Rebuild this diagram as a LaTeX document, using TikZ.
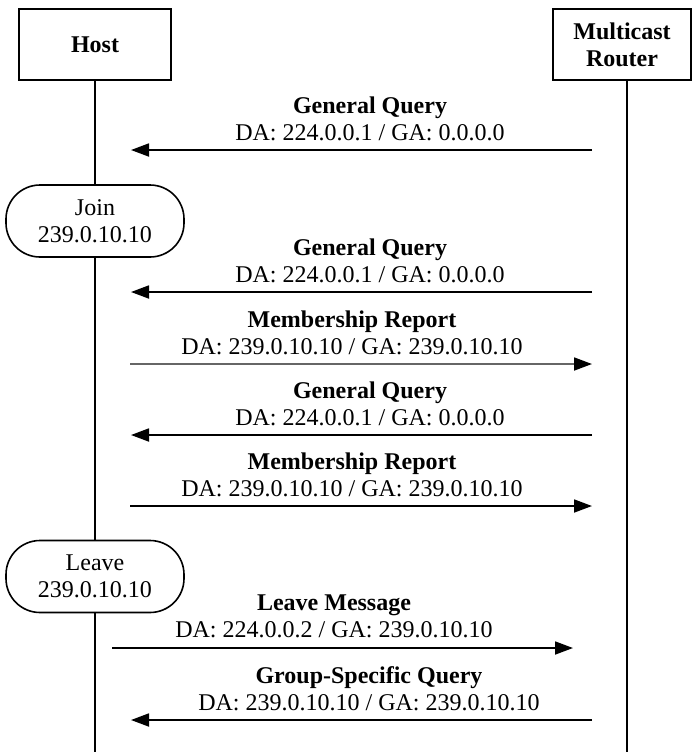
\documentclass[tikz,border=0pt]{standalone}
\usepackage{fontspec}
\setmainfont{Liberation Serif}
\usetikzlibrary{arrows.meta}
\begin{document}
\fontsize{12}{13.5}\selectfont
\begin{tikzpicture}[x=0.5pt,y=-0.5pt,
  lane/.style={draw, line width=0.9pt, minimum width=76pt, minimum height=35.5pt, font=\bfseries, align=center, inner sep=0pt},
  capsule/.style={draw, line width=0.8pt, rounded corners=17pt, minimum width=89pt, minimum height=36pt, align=center, inner sep=0pt},
  life/.style={line width=0.9pt},
  msg/.style={line width=0.9pt, -{Triangle[length=9pt,width=6.5pt]}},
  lbl/.style={align=center, inner sep=0pt}
]
\useasboundingbox (0,0) rectangle (693,752);
% participants
\node[lane] (host) at (95,44.5) {Host};
\node[lane, minimum width=69pt] (router) at (622,44.5) {Multicast\\Router};
\coordinate (rx) at (627,0);
\node[capsule] (join) at (95,221) {Join\\239.0.10.10};
\node[capsule] (leave) at (95,576.5) {Leave\\239.0.10.10};
\coordinate (hend) at (95,752);
\coordinate (rend) at (627,752);
% lifelines
\draw[life] (host) -- (join);
\draw[life] (join) -- (leave);
\draw[life] (leave) -- (hend);
\draw[life] (router.south -| rx) -- (rend);
% message 1
\coordinate (m1h) at (131,150); \coordinate (m1r) at (592,150);
\draw[msg] (m1r) -- (m1h);
\node[lbl] (l1) at (370,118.5) {\textbf{General Query}\\DA: 224.0.0.1 / GA: 0.0.0.0};
% message 2
\coordinate (m2h) at (131,292); \coordinate (m2r) at (592,292);
\draw[msg] (m2r) -- (m2h);
\node[lbl] (l2) at (370,260.5) {\textbf{General Query}\\DA: 224.0.0.1 / GA: 0.0.0.0};
% message 3
\coordinate (m3h) at (130,364); \coordinate (m3r) at (592,364);
\draw[msg, draw=black!60, -{Triangle[length=9pt,width=6.5pt,color=black]}] (m3h) -- (m3r);
\node[lbl] (l3) at (352,332.5) {\textbf{Membership Report}\\DA: 239.0.10.10 / GA: 239.0.10.10};
% message 4
\coordinate (m4h) at (131,435); \coordinate (m4r) at (592,435);
\draw[msg] (m4r) -- (m4h);
\node[lbl] (l4) at (370,403.5) {\textbf{General Query}\\DA: 224.0.0.1 / GA: 0.0.0.0};
% message 5
\coordinate (m5h) at (130,506); \coordinate (m5r) at (592,506);
\draw[msg] (m5h) -- (m5r);
\node[lbl] (l5) at (352,474.5) {\textbf{Membership Report}\\DA: 239.0.10.10 / GA: 239.0.10.10};
% message 6
\coordinate (m6h) at (112,648); \coordinate (m6r) at (573,648);
\draw[msg] (m6h) -- (m6r);
\node[lbl] (l6) at (334,616.5) {\textbf{Leave Message}\\DA: 224.0.0.2 / GA: 239.0.10.10};
% message 7
\coordinate (m7h) at (131,720); \coordinate (m7r) at (592,720);
\draw[msg] (m7r) -- (m7h);
\node[lbl] (l7) at (369,688.5) {\textbf{Group-Specific Query}\\DA: 239.0.10.10 / GA: 239.0.10.10};
\end{tikzpicture}
\end{document}
